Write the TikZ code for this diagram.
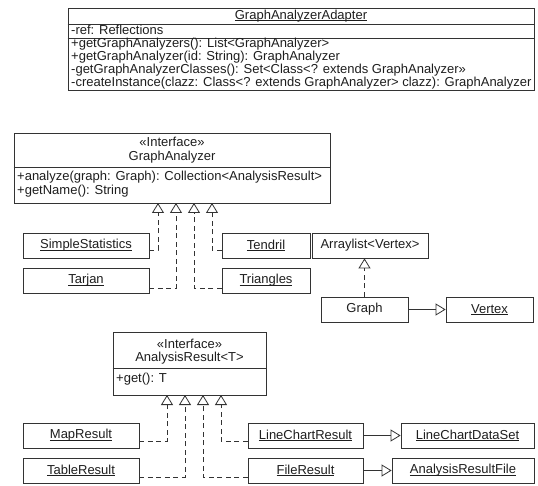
\documentclass[tikz,border=0pt]{standalone}
\usepackage{fontspec}
\setmainfont{Liberation Sans}
\usepackage{graphicx}
\usetikzlibrary{arrows.meta}
\definecolor{ln}{HTML}{333333}
\definecolor{tx}{HTML}{1E1E1E}
\newcommand{\fs}{\fontsize{13}{13.5}\selectfont}
\newcommand{\uln}[1]{\setbox0\hbox{#1}\rlap{\rule[-1.6pt]{\wd0}{0.6pt}}\box0}
\begin{document}
\begin{tikzpicture}[x=1pt,y=-1pt,
  box/.style={draw=ln, line width=0.8pt, inner sep=0pt, minimum height=25pt, font=\fs, text=tx},
  frame/.style={draw=ln, line width=0.8pt, inner sep=0pt},
  sep/.style={draw=ln, line width=0.8pt},
  txt/.style={inner sep=0pt, font=\fs, text=tx, text height=9.5pt, text depth=2.5pt},
  gen/.style={draw=ln, line width=0.8pt, -{Triangle[open,length=10pt,width=12pt,fill=white]}},
  real/.style={gen, dash pattern=on 5pt off 3.5pt}]
\fill[white] (0,0) rectangle (538,486);
\useasboundingbox (0,0) rectangle (538,486);

% GraphAnalyzerAdapter
\node[frame, minimum width=466pt, minimum height=82pt] (adapter) at (301,49) {};
\draw[sep] (adapter.west |- 0,24) -- (adapter.east |- 0,24);
\draw[sep] (adapter.west |- 0,38) -- (adapter.east |- 0,38);
\node[txt] (adtitle) at (301,16) {\uln{GraphAnalyzerAdapter}};
\node[txt, anchor=west] (adref) at (71,31) {-ref: Reflections};
\node[txt, anchor=west] (adm1) at (71,44.5) {+getGraphAnalyzers(): List<GraphAnalyzer>};
\node[txt, anchor=west] (adm2) at (71,57.5) {+getGraphAnalyzer(id: String): GraphAnalyzer};
\node[txt, anchor=west] (adm3) at (71,70.5) {-getGraphAnalyzerClasses(): Set<Class<? extends GraphAnalyzer»};
\node[txt, anchor=west] (adm4) at (71,83.5) {-createInstance(clazz: Class<? extends GraphAnalyzer> clazz): GraphAnalyzer};

% GraphAnalyzer interface
\node[frame, minimum width=316pt, minimum height=70pt] (ga) at (172,168) {};
\draw[sep] (ga.west |- 0,167) -- (ga.east |- 0,167);
\node[txt] (gast) at (172,143.5) {«Interface»};
\node[txt] (ganame) at (172,157) {GraphAnalyzer};
\node[txt, anchor=west] (gam1) at (17,177.5) {+analyze(graph: Graph): Collection<AnalysisResult>};
\node[txt, anchor=west] (gam2) at (17,191) {+getName(): String};

\coordinate (g1) at (158,203);
\coordinate (g2) at (176,203);
\coordinate (g3) at (194,203);
\coordinate (g4) at (212,203);

\node[box, minimum width=126pt] (simple) at (86,245.5) {\uln{SimpleStatistics}};
\node[box, minimum width=126pt] (tarjan) at (86,280.5) {\uln{Tarjan}};
\node[box, minimum width=88pt] (tendril) at (266,245.5) {\uln{Tendril}};
\node[box, minimum width=88pt] (triangles) at (266,280.5) {\uln{Triangles}};

\draw[real] ([yshift=-4.5pt]simple.east) -| (g1);
\draw[real] ([yshift=-7.5pt]tarjan.east) -| (g2);
\draw[real] ([yshift=-7.5pt]triangles.west) -| (g3);
\draw[real] ([yshift=-4.5pt]tendril.west) -| (g4);

% Graph / Vertex
\node[box, minimum width=116pt] (arraylist) at (370,245.5) {Arraylist<Vertex>};
\node[box, minimum width=87pt] (graph) at (364.5,309.5) {Graph};
\node[box, minimum width=87pt] (vertex) at (489.5,309.5) {\uln{Vertex}};
\draw[real] (graph.north) -- (graph.north |- arraylist.south);
\draw[gen] (graph) -- (vertex);

% AnalysisResult interface
\node[frame, minimum width=153pt, minimum height=63pt] (ar) at (189.5,363.5) {};
\draw[sep] (ar.west |- 0,368) -- (ar.east |- 0,368);
\node[txt] (arst) at (189.5,345) {«Interface»};
\node[txt] (arname) at (189.5,358) {AnalysisResult<T>};
\node[txt, anchor=west] (arm1) at (116,379) {+get(): T};

\coordinate (a1) at (167,395);
\coordinate (a2) at (185,395);
\coordinate (a3) at (203,395);
\coordinate (a4) at (221,395);

\node[box, minimum width=116pt] (map) at (81,435.5) {\uln{MapResult}};
\node[box, minimum width=116pt] (table) at (81,470.5) {\uln{TableResult}};
\node[box, minimum width=115pt] (linechart) at (305.5,435.5) {\uln{LineChartResult}};
\node[box, minimum width=115pt] (file) at (305.5,470.5) {\uln{FileResult}};
\node[box, minimum width=133pt] (dataset) at (467.5,435.5) {\uln{LineChartDataSet}};
\node[box, minimum width=142pt] (arfile) at (463,470.5) {\uln{AnalysisResultFile}};

\draw[real] ([yshift=-5.5pt]map.east) -| (a1);
\draw[real] ([yshift=-6.5pt]table.east) -| (a2);
\draw[real] ([yshift=-6.5pt]file.west) -| (a3);
\draw[real] ([yshift=-5.5pt]linechart.west) -| (a4);
\draw[gen] (linechart) -- (dataset);
\draw[gen] (file) -- (arfile);
\end{tikzpicture}
\end{document}
